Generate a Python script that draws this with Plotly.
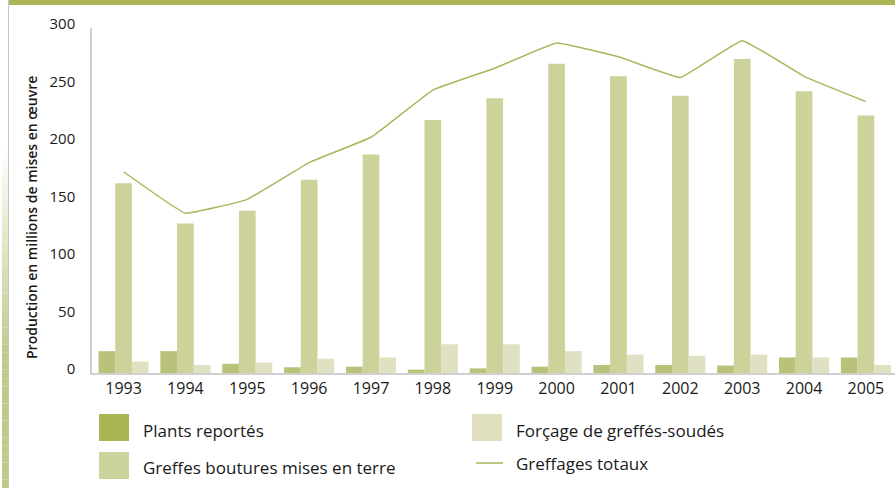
import plotly.graph_objects as go

years = ["1993", "1994", "1995", "1996", "1997", "1998", "1999",
         "2000", "2001", "2002", "2003", "2004", "2005"]
plants_reportes = [19, 19, 8, 5, 5.5, 3, 4, 5.5, 7, 7, 6.5, 13.5, 13.5]
greffes_boutures = [165, 130, 141, 168, 190, 220, 239, 269, 258, 241, 273, 245, 224]
forcage = [10, 7, 9, 12.5, 13.5, 25, 25, 19, 16, 15, 16, 13.5, 7]
greffages_totaux = [175, 139, 151, 183, 205, 246, 265, 287, 275, 257, 289, 258, 236]

names = ["Plants reportés", "Greffes boutures mises en terre",
         "Forçage de greffés-soudés", "Greffages totaux"]
y_ticks = [0, 50, 100, 150, 200, 250, 300]
y_title = "Production en millions de mises en œuvre"

W, H = 895, 488
L, R, T, B = 92, 895, 28, 373  # plot area in px


def px(x):
    return (x - L) / (R - L)


def py(y):
    return (B - y) / (B - T)


FONT = "Open Sans"
c_plants, c_greffes, c_forcage, c_line = "#bac279", "#ccd29a", "#e0e1c2", "#adb55a"

fig = go.Figure()
fig.add_trace(go.Bar(x=years, y=plants_reportes, name=names[0], marker_color=c_plants,
                     marker_line_width=0, showlegend=False))
fig.add_trace(go.Bar(x=years, y=greffes_boutures, name=names[1], marker_color=c_greffes,
                     marker_line_width=0, showlegend=False))
fig.add_trace(go.Bar(x=years, y=forcage, name=names[2], marker_color=c_forcage,
                     marker_line_width=0, showlegend=False))
fig.add_trace(go.Scatter(x=years, y=greffages_totaux, name=names[3], mode="lines",
                         line=dict(color=c_line, width=1.5, shape="spline", smoothing=0.25),
                         showlegend=False))

shapes = []
annotations = []
# top banner
shapes.append(dict(type="rect", xref="paper", yref="paper", x0=px(9), x1=px(900),
                   y0=py(0), y1=py(5), fillcolor="#abb553", line_width=0, layer="above"))
# left decorative gradient bar
n = 40
top_g, bot_g = 150, 488
for i in range(n):
    y0 = top_g + (bot_g - top_g) * i / n
    y1 = top_g + (bot_g - top_g) * (i + 1) / n
    shapes.append(dict(type="rect", xref="paper", yref="paper", x0=px(2), x1=px(8),
                       y0=py(y0), y1=py(y1), fillcolor="#c2c885",
                       opacity=min(1, (i + 1) / n * 1.6), line_width=0))
# left gray border line
shapes.append(dict(type="line", xref="paper", yref="paper", x0=px(8.5), x1=px(8.5),
                   y0=py(0), y1=py(488), line=dict(color="#c8c8c8", width=1)))

# manual legend
leg = [
    (names[0], "rect", "#abb553", 99, 414, 141, 430),
    (names[2], "rect", "#dfdfc0", 472, 414, 514, 430),
    (names[1], "rect", "#cdd39c", 99, 452, 141, 467),
    (names[3], "line", c_line, 476, 463, 514, 463),
]
for name, kind, col, x0, y0, tx, ty in leg:
    if kind == "rect":
        shapes.append(dict(type="rect", xref="paper", yref="paper", x0=px(x0), x1=px(x0 + 30),
                           y0=py(y0), y1=py(y0 + 27), fillcolor=col, line_width=0))
    else:
        shapes.append(dict(type="line", xref="paper", yref="paper", x0=px(x0), x1=px(x0 + 27),
                           y0=py(y0), y1=py(y0), line=dict(color=col, width=1.5)))
    annotations.append(dict(text=name, xref="paper", yref="paper", x=px(tx), y=py(ty),
                            xanchor="left", yanchor="middle", showarrow=False,
                            font=dict(family=FONT, size=17, color="#1a1a1a")))

annotations.append(dict(text=y_title, xref="paper", yref="paper", x=px(31), y=py(218),
                        textangle=-90, xanchor="center", yanchor="middle", showarrow=False,
                        font=dict(family=FONT, size=14, color="#1a1a1a", weight=600)))

fig.update_layout(
    width=W, height=H,
    margin=dict(l=L, r=W - R, t=T, b=H - B, pad=0),
    paper_bgcolor="white", plot_bgcolor="white",
    barmode="group", bargap=0.19, bargroupgap=0,
    shapes=shapes, annotations=annotations,
    showlegend=False,
    font=dict(family=FONT, size=16, color="#1a1a1a"),
)
fig.update_xaxes(type="category", range=[-0.51, 12.47], showgrid=False, zeroline=False,
                 showline=True, linecolor="#d0d0d0", linewidth=1.5, ticks="",
                 tickfont=dict(family=FONT, size=16, color="#1a1a1a"), ticklabelstandoff=0)
fig.update_yaxes(range=[0, 300], tickvals=y_ticks, showgrid=False, zeroline=False,
                 showline=True, linecolor="#d0d0d0", linewidth=1.5, ticks="",
                 tickfont=dict(family=FONT, size=15, color="#1a1a1a"), ticklabelstandoff=12,
                 ticklabelshift=-4)

fig.write_html("out.html", config={"displayModeBar": False},
               post_script="document.body.style.margin='0';document.body.style.overflow='hidden';")
